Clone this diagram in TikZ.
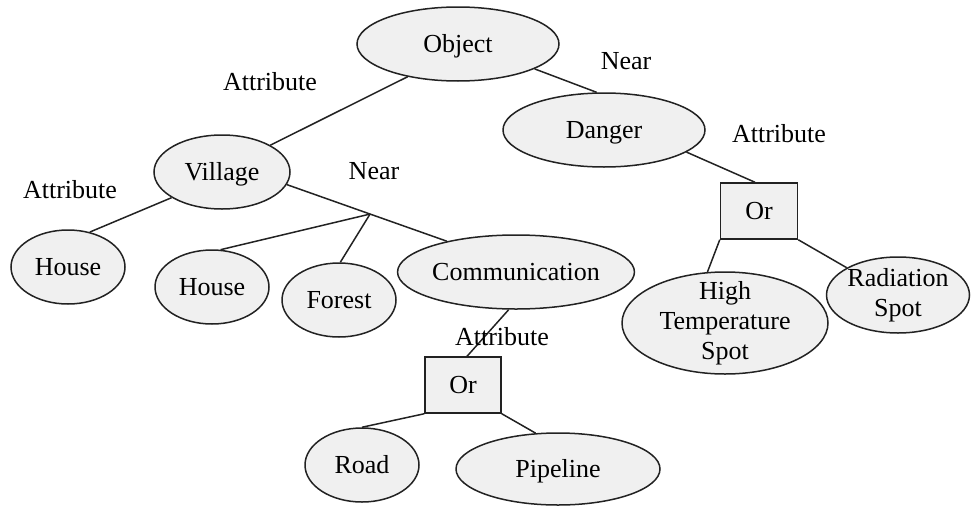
\documentclass[tikz,border=0pt]{standalone}
\usepackage{fontspec}
\setmainfont{Liberation Serif}
\usetikzlibrary{shapes.geometric,calc}
\definecolor{nodefill}{HTML}{F0F0F0}
\definecolor{edgecol}{HTML}{222222}
\tikzset{
  txtbase/.style={font=\fontsize{26}{30}\selectfont, inner sep=0pt, align=center},
  txt/.style={txtbase, text height=17pt, text depth=0pt},
  shapestyle/.style={draw=edgecol, fill=nodefill, line width=1.5pt},
  ell/.style={txt, ellipse, shapestyle},
  ellmulti/.style={txtbase, ellipse, shapestyle},
  orbox/.style={txt, rectangle, shapestyle},
  lbl/.style={txt},
  conn/.style={draw=edgecol, line width=1.5pt},
}
\begin{document}
\begin{tikzpicture}[x=1pt,y=-1pt]
\useasboundingbox (0,0) rectangle (973,506);
% nodes
\node[ell, minimum width=202pt, minimum height=74pt] (obj) at (458,44) {Object};
\node[ell, minimum width=136pt, minimum height=74pt] (vil) at (222,172) {Village};
\node[ell, minimum width=202pt, minimum height=74pt] (dan) at (604,130) {Danger};
\node[ell, minimum width=114pt, minimum height=74pt] (h1) at (68,267) {House};
\node[ell, minimum width=114pt, minimum height=74pt] (h2) at (212,287) {House};
\node[ell, minimum width=114pt, minimum height=74pt] (for) at (339,300) {Forest};
\node[ell, minimum width=234pt, minimum height=74pt] (com) at (516,272) {Communication};
\node[orbox, minimum width=76pt, minimum height=56pt] (or1) at (463,385) {Or};
\node[ell, minimum width=114pt, minimum height=74pt] (road) at (362,465) {Road};
\node[ell, minimum width=204pt, minimum height=72pt] (pipe) at (558,469) {Pipeline};
\node[orbox, minimum width=77pt, minimum height=56pt] (or2) at (759,211) {Or};
\node[ellmulti, inner ysep=-6pt, minimum width=206pt, minimum height=102pt] (hts) at (725,323) {High\\Temperature\\Spot};
\node[ellmulti, minimum width=142pt, minimum height=76pt] (rad) at (898,295) {Radiation\\Spot};
% connectors
\draw[conn] (obj.213) -- (vil.29);
\draw[conn] (obj.-18) -- (dan.101);
\draw[conn] (vil.207) -- (h1.58);
\draw[conn] (vil.-11) -- (com.156);
\coordinate (br) at ($(vil.-11)!0.52!(com.156)$);
\draw[conn] (br) -- (h2.77);
\draw[conn] (br) -- (for.88);
\draw[conn] (com.259) -- (or1.82);
\draw[conn] (or1.south west) -- (road.north);
\draw[conn] (or1.south east) -- (pipe.122);
\draw[conn] (dan.-15) -- (or2.98);
\draw[conn] (or2.south west) -- (hts.109);
\draw[conn] (or2.south east) -- (rad.152);
% labels
\node[lbl] (l1) at (270,82) {Attribute};
\node[lbl] (l2) at (374,171) {Near};
\node[lbl] (l3) at (70,190) {Attribute};
\node[lbl] (l4) at (626,61) {Near};
\node[lbl] (l5) at (779,134) {Attribute};
\node[lbl] (l6) at (502,337) {Attribute};
\end{tikzpicture}
\end{document}
